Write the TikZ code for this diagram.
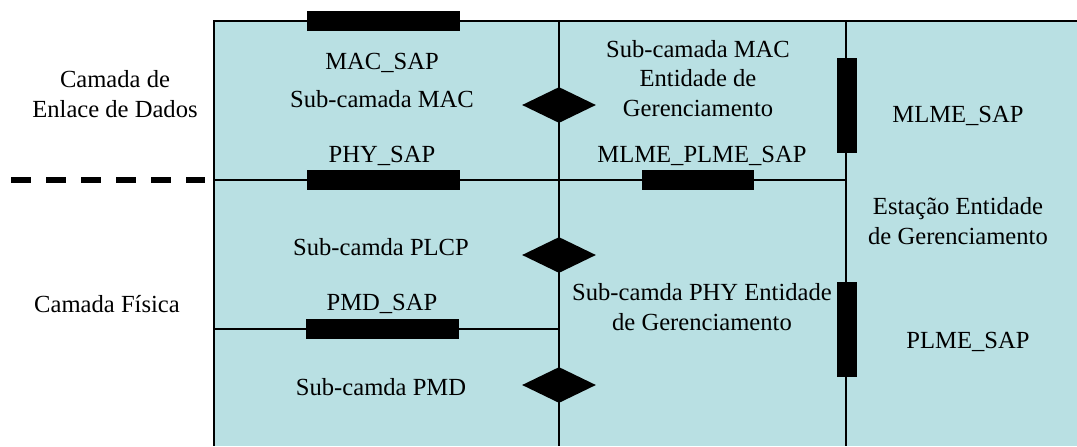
\documentclass[tikz,border=0pt]{standalone}
\usepackage{fontspec}
\setmainfont{Liberation Serif}
\usetikzlibrary{shapes.geometric}
\definecolor{cellblue}{RGB}{185,224,227}
\begin{document}
\begin{tikzpicture}[x=0.5pt,y=-0.5pt,
  txt/.style={font=\fontsize{12.3}{14.75}\selectfont, inner sep=0pt, align=center, anchor=base},
  grid/.style={line width=0.8pt, black},
  hbar/.style={fill=black, draw=none, minimum width=76.5pt, minimum height=10pt, inner sep=0pt},
  vbar/.style={fill=black, draw=none, minimum width=10pt, minimum height=47.5pt, inner sep=0pt},
  dmd/.style={diamond, fill=black, draw=none, inner sep=0pt, minimum width=37pt, minimum height=18pt, aspect=2}
]
\useasboundingbox (0,0) rectangle (1077,446);
\fill[cellblue] (214,21) rectangle (1077,446);
% frame and grid coordinates
\coordinate (tl) at (214,21);
\coordinate (tr) at (1077,21);
\coordinate (bl) at (214,446);
\coordinate (v1t) at (559,21);
\coordinate (v1b) at (559,446);
\coordinate (v2t) at (846,21);
\coordinate (v2b) at (846,446);
\coordinate (h1l) at (214,180);
\coordinate (h1r) at (846,180);
\coordinate (h2l) at (214,329);
\coordinate (h2r) at (559,329);
\coordinate (dl) at (11,180);
\coordinate (dr) at (205,180);
\draw[grid] (tr) -- (tl) -- (bl);
\draw[grid] (v1t) -- (v1b);
\draw[grid] (v2t) -- (v2b);
\draw[grid] (h1l) -- (h1r);
\draw[grid] (h2l) -- (h2r);
\draw[line width=2.8pt, dash pattern=on 10pt off 7.5pt] (dl) -- (dr);
% bars
\node[hbar] (macbar) at (383.5,21) {};
\node[hbar] (phybar) at (383.5,180) {};
\node[hbar] (pmdbar) at (382,329) {};
\node[hbar, minimum width=56pt] (mpbar) at (698,180) {};
\node[vbar] (mlmebar) at (847,105.5) {};
\node[vbar] (plmebar) at (847,329.5) {};
% diamonds
\node[dmd] (d1) at (559,105) {};
\node[dmd] (d2) at (559,255) {};
\node[dmd] (d3) at (559,385) {};
% texts (multi-line nodes: base anchor is the last line's baseline)
\node[txt] (macsap) at (382,69) {MAC\_SAP};
\node[txt] (submac) at (382,107) {Sub-camada MAC};
\node[txt] (physap) at (382,162) {PHY\_SAP};
\node[txt] (macent) at (698,116) {Sub-camada MAC\\Entidade de\\Gerenciamento};
\node[txt] (mpsap) at (702,162) {MLME\_PLME\_SAP};
\node[txt] (mlmesap) at (958,122) {MLME\_SAP};
\node[txt] (estacao) at (958,244) {Estação Entidade\\de Gerenciamento};
\node[txt] (plcp) at (381,255) {Sub-camda PLCP};
\node[txt] (pmdsap) at (382,310) {PMD\_SAP};
\node[txt] (pmd) at (381,395) {Sub-camda PMD};
\node[txt] (phyent) at (702,330) {Sub-camda PHY Entidade\\de Gerenciamento};
\node[txt] (plmesap) at (968,348) {PLME\_SAP};
\node[txt] (enlace) at (115,117) {Camada de\\Enlace de Dados};
\node[txt] (fisica) at (107,312) {Camada Física};
\end{tikzpicture}
\end{document}
